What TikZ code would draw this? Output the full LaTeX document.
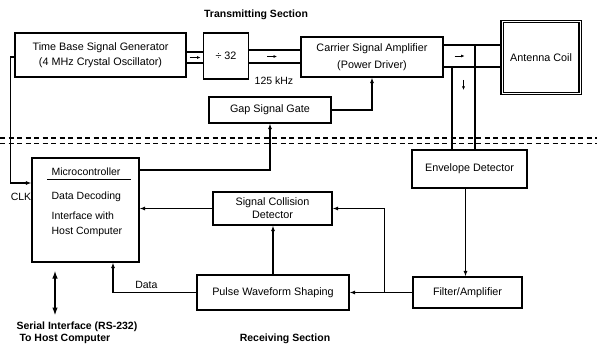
\documentclass[tikz,border=0pt]{standalone}
\usepackage{fontspec}
\setmainfont{Liberation Sans}
\usetikzlibrary{arrows.meta,positioning,calc}

\begin{document}
\begin{tikzpicture}[x=1pt,y=-1pt,
  block/.style={draw,line width=1.1pt,inner sep=2pt,align=center,
                font=\fontsize{10.8}{13}\selectfont},
  caption/.style={font=\fontsize{10.5}{12.5}\selectfont\bfseries},
  lbl/.style={font=\fontsize{10.5}{12.5}\selectfont},
  wire/.style={line width=1.1pt},
  arrow/.style={-{Latex[length=5.5pt,width=4pt]},line width=1.1pt},
  flow/.style={-{Latex[length=3.5pt,width=3pt]},line width=0.9pt},
  dualarrow/.style={{Latex[length=8pt,width=5.5pt]}-{Latex[length=8pt,width=5.5pt]},line width=1.5pt},
  divider/.style={line width=1.8pt,dash pattern=on 5pt off 3.5pt}
]
\path[fill=white,use as bounding box] (0,0) rectangle (597,347);

% transmitting section
\node[caption] (txsec) at (256,15) {Transmitting Section};
\node[block,minimum width=171pt,minimum height=44pt] (tbsg) at (100.5,55)
  {Time Base Signal Generator\\[2pt](4 MHz Crystal Oscillator)};
\node[block,minimum width=45pt,minimum height=46pt] (div) at (226,56) {÷ 32};
\node[block,minimum width=142pt,minimum height=40pt] (carrier) at (372,57)
  {Carrier Signal Amplifier\\[4pt](Power Driver)};
\node[block,double,double distance=1pt,minimum width=78pt,minimum height=72pt]
  (antenna) at (541,57.5) {Antenna Coil};
\node[block,minimum width=122pt,minimum height=26pt] (gap) at (270,110) {Gap Signal Gate};
\node[lbl] (rate) at (274,81) {125 kHz};

% receiving section
\node[block,minimum width=107pt,minimum height=104pt] (micro) at (85.5,210) {};
\node[lbl,anchor=north west,align=left,inner sep=0pt] (microtext)
  at ([xshift=20pt,yshift=-10pt]micro.north west)
  {Microcontroller\\[12pt]Data Decoding\\[7pt]Interface with\\[2.5pt]Host Computer};
\node[block,minimum width=119pt,minimum height=33pt] (collision) at (272.5,208.5)
  {Signal Collision\\Detector};
\node[block,minimum width=152pt,minimum height=35pt] (pulse) at (273,292.5)
  {Pulse Waveform Shaping};
\node[block,minimum width=115pt,minimum height=38pt] (envelope) at (469.5,169)
  {Envelope Detector};
\node[block,minimum width=109pt,minimum height=31pt] (filter) at (467.5,292.5)
  {Filter/Amplifier};
\node[lbl] (clk) at (21,197) {CLK};
\node[caption,align=left,anchor=west] (serial) at (13,333)
  {Serial Interface (RS-232)\\\hspace{3pt}To Host Computer};
\node[caption] (rxsec) at (285,339) {Receiving Section};

\draw[line width=0.8pt] ([xshift=16pt,yshift=-22pt]micro.north west)
  -- ([xshift=-9pt,yshift=-22pt]micro.north east);

% two-wire channels
\draw[wire] (tbsg.east |- 0,52) -- (div.west |- 0,52);
\draw[wire] (tbsg.east |- 0,63) -- (div.west |- 0,63);
\draw[flow] ($(tbsg.east |- 0,57.5)+(3,0)$) -- ++(11,0);
\draw[wire] (div.east |- 0,50) -- (carrier.west |- 0,50);
\draw[wire] (div.east |- 0,63) -- (carrier.west |- 0,63);
\draw[flow] ($(div.east |- 0,56.5)+(18,0)$) -- ++(10,0);
\draw[wire] (carrier.east |- 0,45) -- (antenna.west |- 0,45);
\draw[wire] (carrier.east |- 0,67) -- (antenna.west |- 0,67);
\draw[flow] ($(carrier.east |- 0,56)+(11,0)$) -- ++(10,0);

\coordinate (tapA) at (452,67);
\coordinate (tapB) at (475,45);
\draw[wire] (tapA) -- (tapA |- envelope.north);
\draw[wire] (tapB) -- (tapB |- envelope.north);
\draw[flow] ($(tapA)!0.5!(tapB |- tapA)+(0,13)$) -- ++(0,10);

\draw[arrow] (gap.east) -| (carrier.south);

% section divider
\draw[divider] (0,138) -- (597,138);
\draw[divider] (0,143.5) -- (597,143.5);

\draw[arrow] (tbsg.west |- 0,57) -- ++(-4,0) |- (micro.west |- 0,183);
\draw[arrow] (micro.east |- 0,170) -| (gap.south);
\draw[arrow] (collision.west) -- (collision.west -| micro.east);
\draw[arrow] (pulse.north) -- (pulse.north |- collision.south);
\draw[arrow] ([xshift=-4pt]envelope.south) -- ([xshift=-4pt]envelope.south |- filter.north);
\draw[arrow] (filter.west) -- (pulse.east);
\coordinate (split) at ($(pulse.east)!0.55!(filter.west)$);
\draw[arrow] (split) |- (collision.east);
\draw[arrow] (pulse.west) -| node[lbl,pos=0.3,above] (datalbl) {Data}
  ([xshift=27.5pt]micro.south);
\draw[dualarrow] ([xshift=-30.5pt,yshift=-8pt]micro.south) -- ++(0,45);
\end{tikzpicture}
\end{document}
